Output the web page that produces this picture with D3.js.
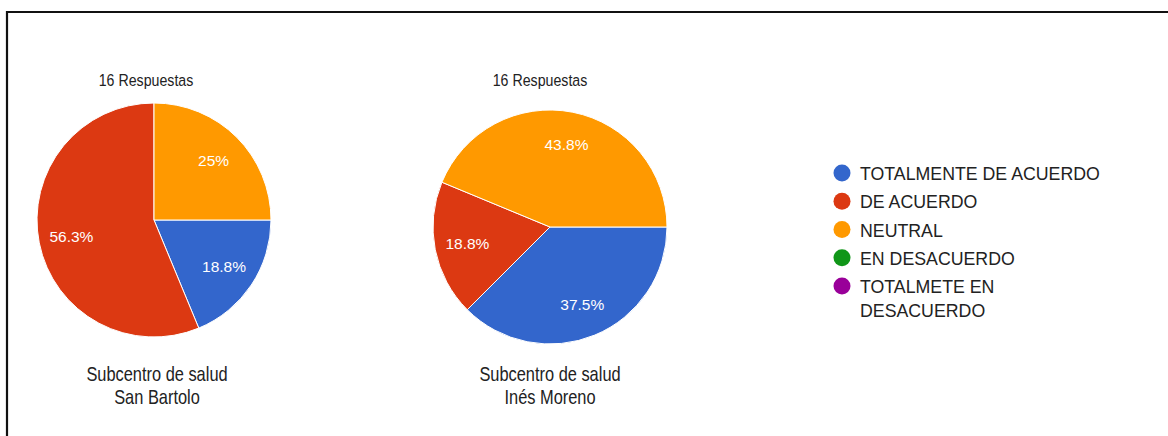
<!DOCTYPE html>
<html>
<head>
<meta charset="utf-8">
<script src="https://cdn.jsdelivr.net/npm/d3@7"></script>
<style>
  html, body { margin: 0; padding: 0; background: #fff; }
  svg { display: block; }
</style>
</head>
<body>
<svg id="chart" width="1168" height="436"></svg>
<script>
// ---- data ----
const categories = ["TOTALMENTE DE ACUERDO", "DE ACUERDO", "NEUTRAL", "EN DESACUERDO", "TOTALMETE EN DESACUERDO"];
const legendLines = [["TOTALMENTE DE ACUERDO"], ["DE ACUERDO"], ["NEUTRAL"], ["EN DESACUERDO"], ["TOTALMETE EN", "DESACUERDO"]];
const colors = ["#3366cc", "#dc3912", "#ff9900", "#109618", "#990099"];
const sanBartolo = [3, 9, 4, 0, 0];
const inesMoreno = [6, 3, 7, 0, 0];
const titles = ["16 Respuestas", "16 Respuestas"];
const subtitles = [["Subcentro de salud", "San Bartolo"], ["Subcentro de salud", "Inés Moreno"]];

const svg = d3.select("#chart");
const FONT = "'Liberation Sans', Arial, sans-serif";

// frame border
svg.append("path")
  .attr("d", "M7,440 L7,12 L1172,12")
  .attr("fill", "none").attr("stroke", "#111").attr("stroke-width", 2.2);

const color = d3.scaleOrdinal().domain(categories).range(colors);

function stext(g, x, y, str, size, sx, opts = {}) {
  return g.append("text")
    .attr("transform", `translate(${x},${y}) scale(${sx},1)`)
    .attr("text-anchor", opts.anchor || "middle")
    .attr("font-family", FONT)
    .attr("font-size", size)
    .attr("fill", opts.fill || "#222")
    .text(str);
}

const pies = [
  { values: sanBartolo, cx: 154, cy: 220, titleX: 146, subX: 157, title: titles[0], sub: subtitles[0] },
  { values: inesMoreno, cx: 550, cy: 227, titleX: 540, subX: 550, title: titles[1], sub: subtitles[1] }
];
const R = 117;

const pieGen = d3.pie().sort(null).value(d => d.v)
  .startAngle(Math.PI / 2).endAngle(Math.PI / 2 + 2 * Math.PI);
const arc = d3.arc().innerRadius(0).outerRadius(R);
const labelArc = d3.arc().innerRadius(R * 0.72).outerRadius(R * 0.72);

pies.forEach(p => {
  const data = categories.map((c, i) => ({ c, v: p.values[i] }));
  const total = d3.sum(p.values);
  const g = svg.append("g").attr("transform", `translate(${p.cx},${p.cy})`);
  const arcs = pieGen(data).filter(a => a.data.v > 0);
  g.selectAll("path.slice").data(arcs).join("path")
    .attr("class", "slice")
    .attr("d", arc)
    .attr("fill", d => color(d.data.c))
    .attr("stroke", "#fff").attr("stroke-width", 1);
  arcs.forEach(a => {
    const [lx, ly] = labelArc.centroid(a);
    const pct = +(a.data.v / total * 100).toFixed(1);
    stext(g, lx, ly + 5.5, pct + "%", 15.5, 1, { fill: "#fff" });
  });
  stext(svg, p.titleX, 86, p.title, 16.5, 0.86);
  stext(svg, p.subX, 381, p.sub[0], 20.5, 0.8);
  stext(svg, p.subX, 404, p.sub[1], 20.5, 0.8);
});

// legend
const legY = d3.scalePoint().domain(categories).range([173, 286]);
const leg = svg.append("g");
categories.forEach((c, i) => {
  const y = legY(c);
  leg.append("circle").attr("cx", 842).attr("cy", y).attr("r", 8.5).attr("fill", color(c));
  legendLines[i].forEach((line, j) => {
    stext(leg, 860, y + 7 + j * 24, line, 18.3, 0.97, { anchor: "start" });
  });
});
</script>
</body>
</html>
